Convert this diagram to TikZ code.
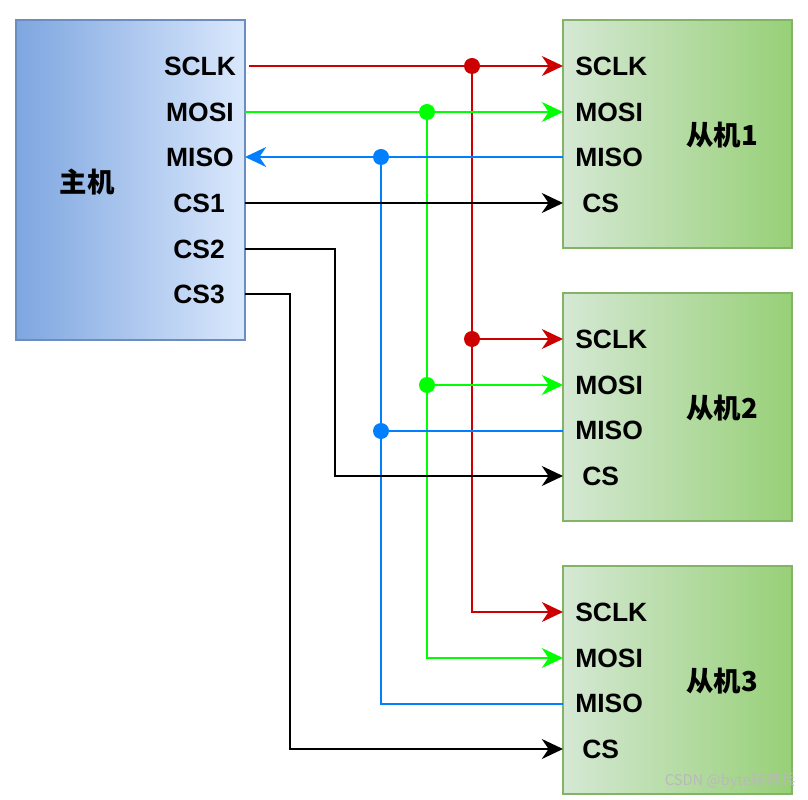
\documentclass[tikz,border=0pt]{standalone}
\usepackage{fontspec}
\setmainfont{Liberation Sans}
\newfontfamily\cjk{Noto Sans CJK SC}
\usetikzlibrary{arrows.meta}
\definecolor{rouge}{HTML}{CC0000}
\definecolor{vert}{HTML}{00FF00}
\definecolor{bleu}{HTML}{007FFF}
\definecolor{bleuclair}{HTML}{DAE8FC}
\definecolor{bleufonce}{HTML}{7EA6E0}
\definecolor{bleubord}{HTML}{6C8EBF}
\definecolor{vertclair}{HTML}{D5E8D4}
\definecolor{vertfonce}{HTML}{97D077}
\definecolor{vertbord}{HTML}{82B366}

\begin{document}
\begin{tikzpicture}[x=0.025cm, y=-0.025cm]
\tikzset{maitre/.style={draw=bleubord, line width=0.0375cm, left color=bleufonce, right color=bleuclair, minimum width=5.725cm, minimum height=8cm, inner sep=0pt}}
\tikzset{esclave/.style={draw=vertbord, line width=0.0375cm, left color=vertclair, right color=vertfonce, minimum width=5.725cm, minimum height=5.7cm, inner sep=0pt}}
\tikzset{broche/.style={font=\fontsize{18.8}{22}\selectfont\bfseries, inner sep=0pt}}
\tikzset{titre/.style={font=\cjk\fontsize{19.5}{22}\selectfont\bfseries, inner sep=0pt}}
\tikzset{point/.style={circle, fill, minimum size=0.4cm, inner sep=0pt}}
\tikzset{fil/.style={line width=0.05cm}}
\tikzset{fleche/.style={fil, -{Stealth[length=0.53cm, width=0.5cm, inset=0.17cm]}}}
\useasboundingbox (0,0) rectangle (808,800);
% boxes
\node[maitre] (M) at (130.5,180) {};
\node[esclave] (S1) at (677.5,134) {};
\node[esclave] (S2) at (677.5,407) {};
\node[esclave] (S3) at (677.5,680) {};
\node[titre] (TM) at (87,182) {主机};
\node[titre] (T1) at (722,135) {从机1};
\node[titre] (T2) at (722,408) {从机2};
\node[titre] (T3) at (722,681) {从机3};
% master pins
\node[broche] (mSCLKt) at (200,66) {SCLK};
\node[broche] (mMOSIt) at (200,112) {MOSI};
\node[broche] (mMISOt) at (200,157) {MISO};
\node[broche] (mCS1t) at (199,203) {CS1};
\node[broche] (mCS2t) at (199,249) {CS2};
\node[broche] (mCS3t) at (199,294) {CS3};
\coordinate (mSCLK) at (249,66);
\coordinate (mMOSI) at (245,112);
\coordinate (mMISO) at (245,157);
\coordinate (mCS1) at (245,203);
\coordinate (mCS2) at (245,249);
\coordinate (mCS3) at (245,294);
% slave pins
\node[broche, anchor=west] (s1SCLKt) at (575,66) {SCLK};
\node[broche, anchor=west] (s1MOSIt) at (575,112) {MOSI};
\node[broche, anchor=west] (s1MISOt) at (575,157.5) {MISO};
\node[broche, anchor=west] (s1CSt) at (582,203) {CS};
\node[broche, anchor=west] (s2SCLKt) at (575,339) {SCLK};
\node[broche, anchor=west] (s2MOSIt) at (575,385) {MOSI};
\node[broche, anchor=west] (s2MISOt) at (575,430.5) {MISO};
\node[broche, anchor=west] (s2CSt) at (582,476) {CS};
\node[broche, anchor=west] (s3SCLKt) at (575,612) {SCLK};
\node[broche, anchor=west] (s3MOSIt) at (575,658) {MOSI};
\node[broche, anchor=west] (s3MISOt) at (575,703.5) {MISO};
\node[broche, anchor=west] (s3CSt) at (582,749) {CS};
\coordinate (s1SCLK) at (563,66);
\coordinate (s1MOSI) at (563,112);
\coordinate (s1MISO) at (563,157);
\coordinate (s1CS) at (563,203);
\coordinate (s2SCLK) at (563,339);
\coordinate (s2MOSI) at (563,385);
\coordinate (s2MISO) at (563,431);
\coordinate (s2CS) at (563,476);
\coordinate (s3SCLK) at (563,612);
\coordinate (s3MOSI) at (563,658);
\coordinate (s3MISO) at (563,704);
\coordinate (s3CS) at (563,749);
% junctions
\node[point, rouge] (j1) at (472,66) {};
\node[point, rouge] (j2) at (472,339) {};
\node[point, vert] (j3) at (427,112) {};
\node[point, vert] (j4) at (427,385) {};
\node[point, bleu] (j5) at (381,157) {};
\node[point, bleu] (j6) at (381,431) {};
% SCLK
\draw[fleche, rouge] (mSCLK) -- (s1SCLK);
\draw[fil, rouge] (j1.center) -- (j2.center);
\draw[fleche, rouge] (j2.center) -- (s2SCLK);
\draw[fleche, rouge] (j2.center) |- (s3SCLK);
% MOSI
\draw[fleche, vert] (mMOSI) -- (s1MOSI);
\draw[fil, vert] (j3.center) -- (j4.center);
\draw[fleche, vert] (j4.center) -- (s2MOSI);
\draw[fleche, vert] (j4.center) |- (s3MOSI);
% MISO
\draw[fleche, bleu] (s1MISO) -- (mMISO);
\draw[fil, bleu] (j5.center) -- (j6.center);
\draw[fil, bleu] (j6.center) -- (s2MISO);
\draw[fil, bleu] (j6.center) |- (s3MISO);
% CS
\draw[fleche] (mCS1) -- (s1CS);
\draw[fleche] (mCS2) -- ++(90,0) |- (s2CS);
\draw[fleche] (mCS3) -- ++(45,0) |- (s3CS);
\node[font=\cjk\fontsize{10.5}{12}\selectfont, text=gray!55, inner sep=0pt] (wm) at (730,781) {CSDN @byte轻骑兵};
\end{tikzpicture}
\end{document}
